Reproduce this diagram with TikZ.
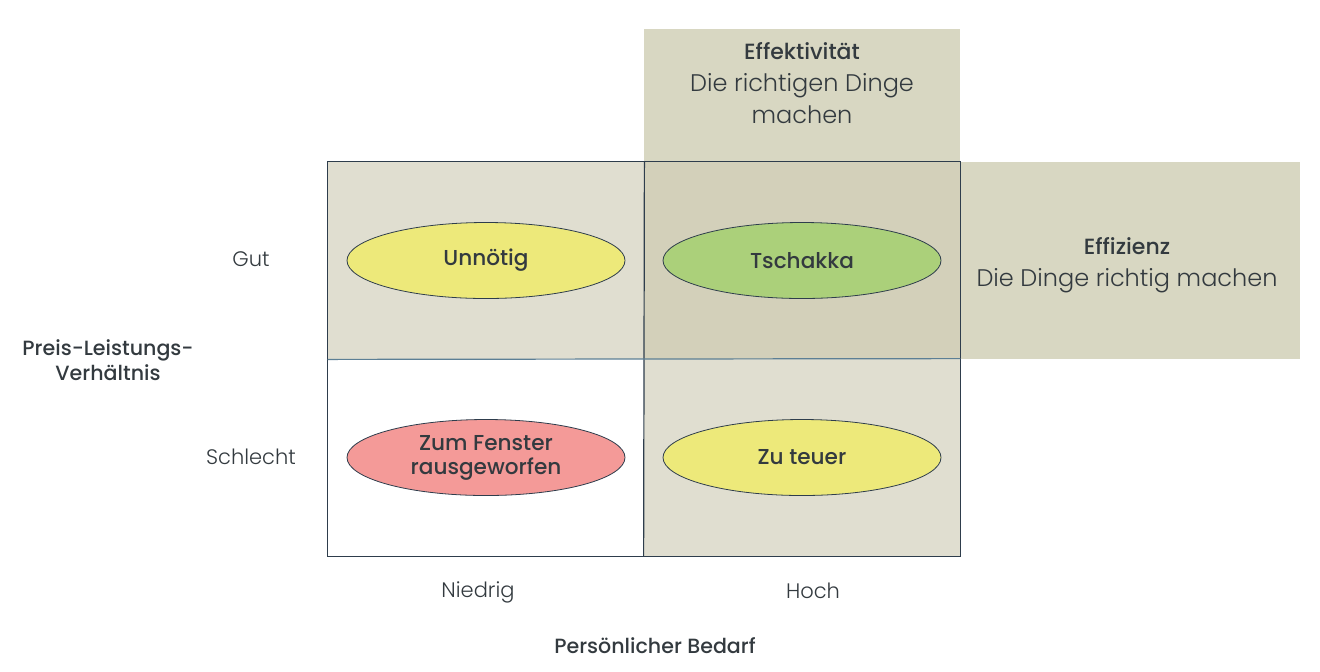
\documentclass[tikz,border=0pt]{standalone}
\usepackage{fontspec}
\setmainfont{Poppins}
\newfontfamily\lightfont{Poppins Light}
\newfontfamily\mediumfont{Poppins Medium}
\usepackage{tikz}
\usetikzlibrary{shapes.geometric, positioning}

\definecolor{gridline}{HTML}{2E3D4C}
\definecolor{midline}{HTML}{5C7F95}
\definecolor{paleCell}{HTML}{E0DED0}
\definecolor{darkCell}{HTML}{D3D0BA}
\definecolor{bandFill}{HTML}{D8D7C2}
\definecolor{textGray}{HTML}{333A3F}
\definecolor{yellowFill}{HTML}{EDE97A}
\definecolor{greenFill}{HTML}{ABD07A}
\definecolor{redFill}{HTML}{F49A98}

\begin{document}
\begin{tikzpicture}[x=0.5pt, y=-0.5pt,
    cell/.style={minimum width=158pt, minimum height=98.5pt, inner sep=0pt},
    oval/.style={ellipse, draw=gridline, line width=0.4pt, minimum width=139pt, minimum height=38pt, inner sep=1pt, align=center, text=textGray, font=\mediumfont\fontsize{10.8}{12}\selectfont},
    tick/.style={text=textGray, font=\lightfont\fontsize{10.5}{12}\selectfont},
    title/.style={text=textGray, align=center, font=\mediumfont\fontsize{10.3}{12.5}\selectfont},
    band/.style={text=textGray, align=center, font=\lightfont\fontsize{12}{16}\selectfont}]
    \useasboundingbox (0,0) rectangle (1320,671);

    % Bands outside the grid
    \node[cell, fill=bandFill, minimum height=66.5pt] (effBand) at (802,95.5) {};
    \node[cell, fill=bandFill, minimum width=170pt] (effzBand) at (1130,260.5) {};

    % Grid cells
    \node[cell, fill=paleCell] (cellTL) at (486,260.5) {};
    \node[cell, fill=darkCell] (cellTR) at (802,260.5) {};
    \node[cell, fill=white] (cellBL) at (486,457.5) {};
    \node[cell, fill=paleCell] (cellBR) at (802,457.5) {};

    % Grid lines
    \draw[gridline, line width=0.6pt] (cellTL.north west) rectangle (cellBR.south east);
    \draw[gridline, line width=0.6pt] (cellTL.north east) -- (cellBR.south west);
    \draw[midline, line width=0.6pt] (cellTL.south west) -- (cellBR.north east);

    % Band texts
    \node[band] (effText) at (802,83) {{\mediumfont\fontsize{11}{15.5}\selectfont Effektivität}\\Die richtigen Dinge\\machen};
    \node[band] (effzText) at (1127,265) {{\mediumfont\fontsize{11}{15.5}\selectfont Effizienz}\\Die Dinge richtig machen};

    % Quadrant ovals
    \node[oval, fill=yellowFill] (unnoetig) at (cellTL) {\raisebox{-1.5pt}{Unnötig}};
    \node[oval, fill=greenFill] (tschakka) at (cellTR) {\raisebox{-1.5pt}{Tschakka}};
    \node[oval, fill=redFill] (fenster) at (cellBL) {Zum Fenster\\rausgeworfen};
    \node[oval, fill=yellowFill] (teuer) at (cellBR) {\raisebox{-1.5pt}{Zu teuer}};

    % Axis labels
    \node[tick] (gut) at (251,259) {Gut};
    \node[tick] (schlecht) at (251,457) {Schlecht};
    \node[title] (preis) at (108,360) {Preis-Leistungs-\\Verhältnis};
    \node[tick] (niedrig) at (478,592) {Niedrig};
    \node[tick] (hoch) at (813,591) {Hoch};
    \node[title] (bedarf) at (655,646) {Persönlicher Bedarf};
\end{tikzpicture}
\end{document}
